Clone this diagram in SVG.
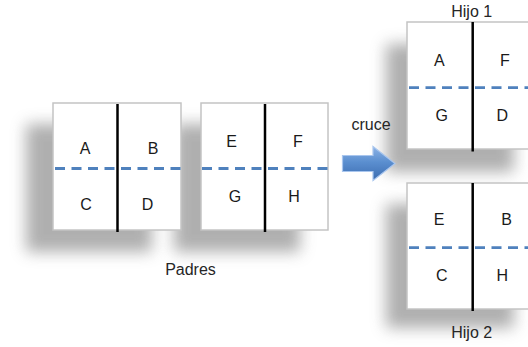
<svg xmlns="http://www.w3.org/2000/svg" width="528" height="347" viewBox="0 0 528 347">
<defs>
  <filter id="blur" x="-40%" y="-40%" width="180%" height="180%">
    <feGaussianBlur stdDeviation="7.5"/>
  </filter>
  <linearGradient id="arrowGrad" x1="0" y1="0" x2="0" y2="1">
    <stop offset="0" stop-color="#8db3e6"/>
    <stop offset="0.45" stop-color="#5b8fd0"/>
    <stop offset="1" stop-color="#3c6cb0"/>
  </linearGradient>
</defs>
<style>
  .shadow { fill: #8a8a8a; opacity: 0.68; filter: url(#blur); }
  .box { fill: #ffffff; stroke: #c4c4c4; stroke-width: 1.5; }
  .vline { stroke: #000000; stroke-width: 2.5; }
  .dash { stroke: #4f81bd; stroke-width: 2.8; stroke-dasharray: 10 6.5; }
  .lbl { font-family: "Liberation Sans", Arial, sans-serif; font-size: 16px; fill: #1a1a1a; text-anchor: middle; }
  .cap { font-family: "Liberation Sans", Arial, sans-serif; font-size: 16px; fill: #262626; text-anchor: middle; }
</style>
<rect width="528" height="347" fill="#ffffff"/>

<!-- shadows -->
<g id="shadows">
  <rect class="shadow" x="26" y="124" width="126" height="128"/>
  <rect class="shadow" x="174" y="124" width="126" height="128"/>
  <rect class="shadow" x="386" y="44" width="128" height="128"/>
  <rect class="shadow" x="386" y="204" width="128" height="124"/>
</g>

<g id="padre1">
  <rect class="box" x="53" y="103" width="128" height="127"/>
  <line class="dash" x1="55" y1="168.5" x2="181" y2="168.5"/>
  <line class="vline" x1="117.5" y1="104" x2="117.5" y2="232"/>
  <text class="lbl" x="85" y="154">A</text>
  <text class="lbl" x="153" y="154">B</text>
  <text class="lbl" x="86" y="210">C</text>
  <text class="lbl" x="147.5" y="210">D</text>
</g>

<g id="padre2">
  <rect class="box" x="201" y="103" width="127" height="127"/>
  <line class="dash" x1="202" y1="168.5" x2="328" y2="168.5"/>
  <line class="vline" x1="265" y1="104" x2="265" y2="232"/>
  <text class="lbl" x="231.5" y="147">E</text>
  <text class="lbl" x="298" y="147">F</text>
  <text class="lbl" x="235" y="202">G</text>
  <text class="lbl" x="294" y="202">H</text>
</g>

<g id="hijo1">
  <rect class="box" x="407" y="22" width="128" height="127"/>
  <line class="dash" x1="409" y1="87.7" x2="535" y2="87.7"/>
  <line class="vline" x1="472.7" y1="22" x2="472.7" y2="151.5"/>
  <text class="lbl" x="439.3" y="65.5">A</text>
  <text class="lbl" x="505" y="65.5">F</text>
  <text class="lbl" x="441.7" y="120.5">G</text>
  <text class="lbl" x="502.3" y="120.5">D</text>
</g>

<g id="hijo2">
  <rect class="box" x="407" y="183" width="128" height="126"/>
  <line class="dash" x1="409" y1="247.7" x2="535" y2="247.7"/>
  <line class="vline" x1="472.7" y1="183" x2="472.7" y2="311"/>
  <text class="lbl" x="439" y="225">E</text>
  <text class="lbl" x="506.7" y="225">B</text>
  <text class="lbl" x="441.7" y="280.5">C</text>
  <text class="lbl" x="502.3" y="280.5">H</text>
</g>

<g id="connectors">
  <path d="M342.5,155.5 L373,155.5 L373,146.5 L395,163.5 L373,180.5 L373,171.5 L342.5,171.5 Z" fill="url(#arrowGrad)" stroke="#a9c6ee" stroke-width="1.2" stroke-linejoin="miter"/>
</g>

<g id="labels">
  <text class="cap" x="371" y="130">cruce</text>
  <text class="cap" x="190.5" y="275">Padres</text>
  <text class="cap" x="471.7" y="17">Hijo 1</text>
  <text class="cap" x="471.7" y="338">Hijo 2</text>
</g>
</svg>
